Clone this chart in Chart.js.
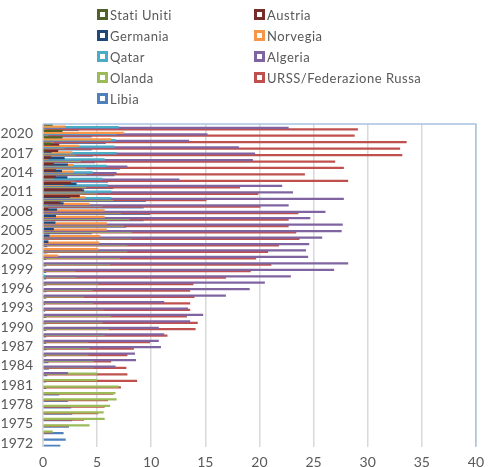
<!DOCTYPE html>
<html>
<head>
<meta charset="utf-8">
<script src="https://cdn.jsdelivr.net/npm/chart.js@4.4.0/dist/chart.umd.min.js"></script>
<style>
  body { margin: 0; background: #fff; }
  #wrap { position: relative; width: 492px; height: 467px; }
  #legend {
    position: absolute; left: 97px; top: 4px;
    display: grid; grid-template-columns: 157px 180px; grid-auto-rows: 21.1px;
    font-family: Lato, sans-serif; font-size: 13px; color: #595959;
  }
  .item { display: flex; align-items: center; letter-spacing: 0.5px; }
  .box { width: 11px; height: 11px; box-sizing: border-box; border: 3px solid; background: #fff; margin-right: 2px; }
  canvas { position: absolute; left: 0; top: 0; }
</style>
</head>
<body>
<div id="wrap">
  <canvas id="chart" width="492" height="467"></canvas>
  <div id="legend"></div>
</div>
<script>
// anni 1972 -> 2021
const years = [];
for (let y = 1972; y <= 2021; y++) years.push(String(y));

// miliardi di m3 (1972 ... 2021)
const statiUniti = [0,0,0,0,0,0,0,0,0,0, 0,0,0,0,0,0,0,0,0,0, 0,0,0,0,0,0,0,0,0,0, 0,0,0,0,0,0,0,0,0,0, 0,0,0,0,0,0.2,0.75,1.8,1.8,0.9];
const austria = [0,0,0,0,0,0,0,0,0,0, 0,0,0,0,0,0,0,0,0,0, 0,0,0,0,0,0,0,0,0,0, 0,0,0,0,0,0,0.5,1.6,3.4,3.6, 2.6,1.2,1.2,1.0,0.75,1.4,1.5,0,0,0];
const germania = [0,0,0,0,0,0,0,0,0,0, 0,0,0,0,0,0,0,0,0,0, 0,0,0,0,0,0,0,0,0,0, 0,0.5,0.6,1.0,1.15,1.2,1.3,1.9,2.5,3.8, 3.1,2.25,1.75,2.3,2.0,0.8,0,0,0,0];
const norvegia = [0,0,0,0,0,0,0,0,0,0, 0,0,0,0,0,0,0,0,0,0, 0,0,0,0,0,0,0,0,0,1.4, 5.1,5.2,5.3,5.9,5.9,5.7,5.7,4.3,3.9,3.8, 2.0,1.0,2.8,2.8,0.5,2.7,3.3,6.3,7.5,2.05];
const qatar = [0,0,0,0,0,0,0,0,0,0, 0,0,0,0,0,0,0,0,0,0, 0,0,0,0,0,0,0.2,0,0,0, 0,0,0,0,0,0,0,0.5,6.3,6.3, 6.0,5.5,4.6,5.9,5.7,6.8,6.6,6.7,6.8,7.0];
const algeria = [0,0,0,0,0,0,0,0,0,0, 0,2.3,6.7,8.6,8.5,10.9,10.7,11.2,10.7,13.6, 14.8,13.4,11.2,16.9,19.1,20.5,22.9,26.9,28.2,24.5, 24.3,24.6,25.8,27.6,27.7,24.7,26.1,22.7,27.8,23.1, 22.1,12.6,6.8,7.8,19.4,19.6,18.1,13.5,15.2,22.7];
const olanda = [0,0,0.9,4.3,5.7,5.6,6.2,6.8,6.7,7.0, 5.0,5.0,4.7,4.7,4.2,4.3,4.2,5.7,6.1,5.5, 6.3,5.6,4.6,3.8,4.6,5.1,3.1,3.0,6.2,7.1, 7.8,7.8,8.2,8.2,7.5,8.0,7.2,5.5,6.5,5.0, 4.0,3.0,4.0,4.0,3.5,3.0,2.0,1.0,0.5,0.3];
const urss = [0,0,0.8,2.3,3.8,5.1,5.7,6.0,6.5,7.2, 8.7,7.8,7.7,6.3,7.8,8.4,9.9,11.5,14.1,14.3, 13.3,13.6,13.6,14.0,13.6,13.9,16.9,19.2,21.1,19.7, 20.8,21.8,23.7,23.4,22.7,22.7,23.6,20.1,15.1,19.9, 18.2,28.2,24.2,27.8,27.0,33.2,33.0,33.6,28.8,29.1];
const libia = [1.6,2.1,1.9,2.4,2.7,2.7,2.6,2.3,1.5,0.3, 0.3,0.4,0.55,0.5,0.3,0.3,0.3,0.3,0.3,0.3, 0.3,0.2,0.2,0.3,0.3,0.3,0.3,0.3,0.3,0.3, 0.4,0.4,0.5,4.5,7.7,9.3,9.9,9.3,9.5,2.3, 6.5,6.0,6.6,7.1,4.8,4.6,4.5,5.8,4.5,3.3];

const seriesNames = ["Stati Uniti", "Austria", "Germania", "Norvegia", "Qatar", "Algeria", "Olanda", "URSS/Federazione Russa", "Libia"];
const seriesData = [statiUniti, austria, germania, norvegia, qatar, algeria, olanda, urss, libia];
const seriesColors = ["#4F6228", "#772C2A", "#1F497D", "#F79646", "#4BACC6", "#8064A2", "#9BBB59", "#C0504D", "#4F81BD"];

// legenda a due colonne come nell'originale
const legend = document.getElementById("legend");
seriesNames.forEach((name, i) => {
  const it = document.createElement("div");
  it.className = "item";
  const b = document.createElement("span");
  b.className = "box";
  b.style.borderColor = seriesColors[i];
  it.appendChild(b);
  it.appendChild(document.createTextNode(name));
  legend.appendChild(it);
});

// bordo blu solo in alto e a destra, linea grigia chiara a sinistra
const plotBorder = {
  id: "plotBorder",
  afterDraw(chart) {
    const { ctx, chartArea: a } = chart;
    ctx.save();
    ctx.strokeStyle = "#A8C3E3";
    ctx.lineWidth = 1.5;
    ctx.beginPath();
    ctx.moveTo(a.left, a.top);
    ctx.lineTo(a.right, a.top);
    ctx.lineTo(a.right, a.bottom);
    ctx.stroke();
    ctx.restore();
  },
};

const datasets = seriesData.map((d, i) => ({
  label: seriesNames[i],
  data: d,
  backgroundColor: seriesColors[i],
  borderWidth: 0,
  categoryPercentage: 0.95,
  barPercentage: 3.3,
}));

new Chart(document.getElementById("chart").getContext("2d"), {
  type: "bar",
  data: { labels: years, datasets: datasets },
  plugins: [plotBorder],
  options: {
    indexAxis: "y",
    responsive: false,
    animation: false,
    layout: { padding: { left: 0, top: 124, right: 6, bottom: 0 } },
    plugins: { legend: { display: false }, tooltip: { enabled: false } },
    scales: {
      x: {
        min: 0,
        max: 40,
        ticks: { stepSize: 5, color: "#595959", padding: 8, font: { family: "Lato", size: 14 } },
        grid: { color: "#D9D9D9", lineWidth: 1.5, drawTicks: false },
        border: { display: false },
        afterFit: (s) => { s.height = 20.5; },
      },
      y: {
        reverse: true,
        ticks: {
          autoSkip: false,
          color: "#595959",
          padding: 10,
          font: { family: "Lato", size: 14 },
          callback: function (v, i) { return (i % 3 === 0) ? this.getLabelForValue(v) : ""; },
        },
        grid: { display: false, drawTicks: false },
        border: { display: true, color: "#E3E3E3", width: 1 },
        afterFit: (s) => { s.width = 43; },
      },
    },
  },
});
</script>
</body>
</html>
